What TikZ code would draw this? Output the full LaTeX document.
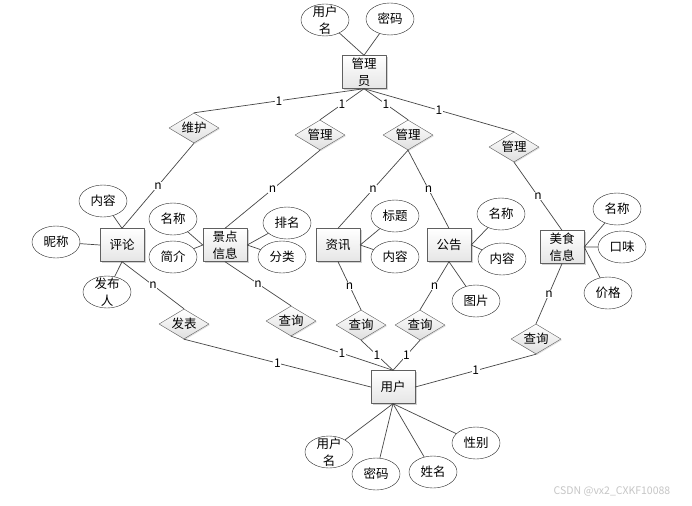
\documentclass[tikz,border=0pt]{standalone}
\usepackage{fontspec}
\setmainfont{Noto Sans CJK SC}
\usetikzlibrary{shapes.geometric,shadows}
\tikzset{
	ent/.style={draw=gray!75!black, top color=white, bottom color=gray!20, minimum width=44pt, minimum height=33pt, inner sep=0pt, align=center,
		drop shadow={shadow xshift=1.5pt, shadow yshift=-1.5pt, opacity=0.35, fill=gray}},
	rel/.style={diamond, aspect=1.7, draw=gray!75!black, top color=white, bottom color=gray!25, minimum width=50pt, minimum height=30pt, inner sep=0pt,
		drop shadow={shadow xshift=1pt, shadow yshift=-1pt, opacity=0.25, fill=gray}},
	att/.style={ellipse, draw=black!85, fill=white, minimum width=48pt, minimum height=32pt, inner sep=0pt, align=center},
	link/.style={draw=gray!55!black, line width=0.7pt},
	lab/.style={midway, fill=white, inner sep=0.6pt, font=\fontsize{12}{13}\selectfont}
}
\begin{document}
\begin{tikzpicture}[x=1pt, y=-1pt, font=\fontsize{12.5}{17}\selectfont, line join=round, line cap=round]
	\fill[white] (0,0) rectangle (692,505); % khung
	% thực thể
	\node[ent] (gly) at (364,72) {管理\\员};
	\node[ent] (pinglun) at (122,245) {评论};
	\node[ent] (jingdian) at (225,245) {景点\\信息};
	\node[ent] (zixun) at (338,245) {资讯};
	\node[ent] (gonggao) at (449,245) {公告};
	\node[ent] (meishi) at (562,247) {美食\\信息};
	\node[ent] (yonghu) at (393,387) {用户};
	% quan hệ
	\node[rel] (weihu) at (194,128) {维护};
	\node[rel] (gl1) at (320,135) {管理};
	\node[rel] (gl2) at (408,135) {管理};
	\node[rel] (gl3) at (514,147) {管理};
	\node[rel] (fabiao) at (184,324) {发表};
	\node[rel] (cx1) at (291,321) {查询};
	\node[rel] (cx2) at (361,325) {查询};
	\node[rel] (cx3) at (420,325) {查询};
	\node[rel] (cx4) at (536,339) {查询};
	% thuộc tính
	\node[att, label={[align=center]center:用户\\名}] (glyname) at (325,20) {};
	\node[att] (glypwd) at (390,19) {密码};
	\node[att] (plnr) at (103,201) {内容};
	\node[att] (plnc) at (56,242) {昵称};
	\node[att, label={[align=center]center:发布\\人}] (plfbr) at (107,292) {};
	\node[att] (jdmc) at (173,219) {名称};
	\node[att] (jdjj) at (173,257) {简介};
	\node[att] (jdpm) at (287,223) {排名};
	\node[att] (jdfl) at (282,257) {分类};
	\node[att] (zxbt) at (395,216) {标题};
	\node[att] (zxnr) at (395,257) {内容};
	\node[att] (ggmc) at (501,214) {名称};
	\node[att] (ggnr) at (502,259) {内容};
	\node[att] (ggtp) at (476,301) {图片};
	\node[att] (msmc) at (617,209) {名称};
	\node[att] (mskw) at (622,247) {口味};
	\node[att] (msjg) at (608,293) {价格};
	\node[att, label={[align=center]center:用户\\名}] (yhname) at (329,452) {};
	\node[att] (yhpwd) at (376,474) {密码};
	\node[att] (yhxm) at (433,472) {姓名};
	\node[att] (yhxb) at (476,443) {性别};
	% nối thuộc tính
	\draw[link] (glyname) -- (gly.north) (glypwd) -- (gly.north);
	\draw[link] (plnr) -- (pinglun.north) (plnc) -- (pinglun.west) (plfbr) -- (pinglun.south);
	\draw[link] (jdmc) -- (jingdian.west) (jdjj) -- (jingdian.west) (jdpm) -- (jingdian.east) (jdfl) -- (jingdian.east);
	\draw[link] (zxbt) -- (zixun.east) (zxnr) -- (zixun.east);
	\draw[link] (ggmc) -- (gonggao.east) (ggnr) -- (gonggao.east) (ggtp) -- (gonggao.south);
	\draw[link] (msmc) -- (meishi.east) (mskw) -- (meishi.east) (msjg) -- (meishi.east);
	\foreach \t in {yhname,yhpwd,yhxm,yhxb} \draw[link] (\t) -- (yonghu.south);
	% nối quan hệ
	\foreach \r in {weihu,gl1,gl2,gl3} \draw[link] (gly.south) -- (\r.north) node[lab]{1};
	\draw[link] (weihu.south) -- (pinglun.north) node[lab]{n};
	\draw[link] (gl1.south) -- (jingdian.north) node[lab]{n};
	\draw[link] (gl2.south) -- (zixun.north) node[lab]{n};
	\draw[link] (gl2.south) -- (gonggao.north) node[lab]{n};
	\draw[link] (gl3.south) -- (meishi.north) node[lab]{n};
	\draw[link] (pinglun.south) -- (fabiao.north) node[lab]{n};
	\draw[link] (jingdian.south) -- (cx1.north) node[lab]{n};
	\draw[link] (zixun.south) -- (cx2.north) node[lab]{n};
	\draw[link] (gonggao.south) -- (cx3.north) node[lab]{n};
	\draw[link] (meishi.south) -- (cx4.north) node[lab]{n};
	\draw[link] (fabiao.south) -- (yonghu.west) node[lab]{1};
	\foreach \r in {cx1,cx2,cx3} \draw[link] (\r.south) -- (yonghu.north) node[lab]{1};
	\draw[link] (cx4.south) -- (yonghu.east) node[lab]{1};
	\node[text=gray!45, font=\fontsize{10.5}{12}\selectfont] (wm) at (612,491) {CSDN @vx2\_CXKF10088};
\end{tikzpicture}
\end{document}
